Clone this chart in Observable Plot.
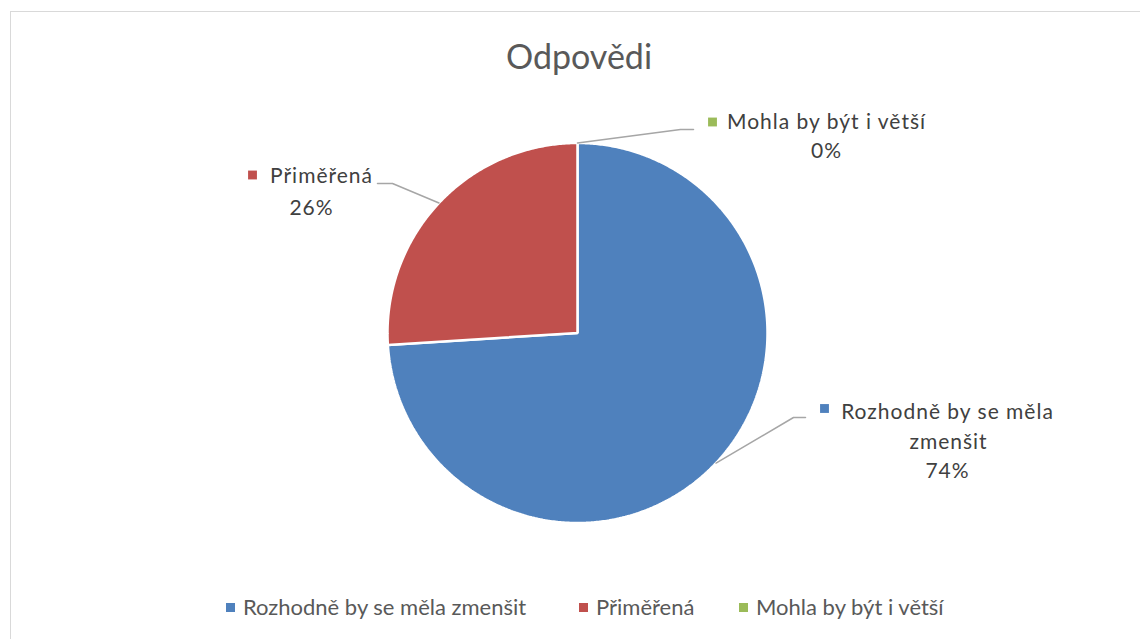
<!DOCTYPE html>
<html>
<head>
<meta charset="utf-8">
<script src="https://cdn.jsdelivr.net/npm/d3@7"></script>
<script src="https://cdn.jsdelivr.net/npm/@observablehq/plot@0.6"></script>
<style>
  html, body { margin: 0; padding: 0; background: #fff; }
  body { width: 1140px; height: 639px; overflow: hidden; position: relative; font-family: Lato, "Open Sans", sans-serif; }
  #frame { position: absolute; left: 10px; top: 11px; width: 1200px; height: 700px; border: 1px solid #d9d9d9; box-sizing: border-box; }
  #title { position: absolute; left: 0; width: 1158px; top: 33px; text-align: center; font-size: 34px; color: #595959; line-height: 46px; }
  #chart { position: absolute; left: 0; top: 0; }
  #legend { position: absolute; left: 0; top: 595px; width: 1140px; height: 24px; font-size: 22px; color: #595959; line-height: 24px; }
  .item { position: absolute; top: 0; display: flex; align-items: center; white-space: nowrap; }
  .sw { width: 9px; height: 9px; margin-right: 8px; }
</style>
</head>
<body>
<div id="frame"></div>
<div id="chart"></div>
<div id="title"></div>
<div id="legend"></div>
<script>
// ---- data ----
const categories = ["Rozhodně by se měla zmenšit", "Přiměřená", "Mohla by být i větší"];
const values = [74, 26, 0];
const colors = ["#4f81bd", "#c0504d", "#9bbb59"];
const labelLines = [["Rozhodně by se měla", "zmenšit"], ["Přiměřená"], ["Mohla by být i větší"]];
const titleText = "Odpovědi";

// ---- layout (pixel positions) ----
const W = 1140, H = 639;
const cx = 577, cy = 332.5, R = 190;
const layout = [
  {elbow: [793, 417], end: [805, 417], marker: [824, 408], lines: [[947, 412], [948, 442]], pct: [947, 471]},
  {elbow: [392, 183], end: [377, 183], marker: [252, 174.5], lines: [[321, 176]], pct: [311, 208]},
  {elbow: [680, 129], end: [693, 129], marker: [712, 121.5], lines: [[826, 122]], pct: [826, 151]}
];
const legendLeft = [226, 579, 739];

const total = d3.sum(values);
const arcs = [];
let acc = 0;
values.forEach((v, i) => {
  const a0 = acc / total * 2 * Math.PI;
  acc += v;
  const a1 = acc / total * 2 * Math.PI;
  arcs.push({i, a0, a1, mid: (a0 + a1) / 2});
});

const pt = (a, r) => [cx + r * Math.sin(a), cy - r * Math.cos(a)];

// slice polygons
const slicePts = [];
arcs.forEach(({i, a0, a1}) => {
  if (a1 - a0 <= 0) return;
  const n = Math.max(2, Math.ceil((a1 - a0) / (Math.PI / 360)));
  slicePts.push({cat: categories[i], x: cx, y: cy});
  for (let k = 0; k <= n; k++) {
    const [x, y] = pt(a0 + (a1 - a0) * k / n, R);
    slicePts.push({cat: categories[i], x, y});
  }
});

// leader lines
const leaderPts = [];
arcs.forEach(({i, mid}) => {
  const [sx, sy] = pt(mid, R);
  const L = layout[i];
  leaderPts.push({k: i, x: sx, y: sy}, {k: i, x: L.elbow[0], y: L.elbow[1]}, {k: i, x: L.end[0], y: L.end[1]});
});

// label texts
const texts = [];
arcs.forEach(({i}) => {
  const L = layout[i];
  labelLines[i].forEach((t, j) => texts.push({t, x: L.lines[j][0], y: L.lines[j][1]}));
  texts.push({t: Math.round(values[i] / total * 100) + "%", x: L.pct[0], y: L.pct[1]});
});
const markers = categories.map((c, i) => ({cat: c, x: layout[i].marker[0], y: layout[i].marker[1]}));

const plot = Plot.plot({
  width: W, height: H,
  margin: 0,
  x: {domain: [0, W], range: [0, W], axis: null},
  y: {domain: [0, H], range: [0, H], axis: null},
  color: {domain: categories, range: colors},
  style: {fontFamily: "Lato, 'Open Sans', sans-serif", background: "transparent"},
  marks: [
    Plot.line(slicePts, {x: "x", y: "y", z: "cat", fill: "cat", stroke: "white", strokeWidth: 2.5, curve: "linear-closed", strokeLinejoin: "miter"}),
    Plot.line(leaderPts, {x: "x", y: "y", z: "k", stroke: "#a6a6a6", strokeWidth: 1.5}),
    Plot.dot(markers, {x: "x", y: "y", fill: "cat", symbol: "square", r: 5, stroke: null}),
    Plot.text(texts, {x: "x", y: "y", text: "t", fontSize: 21, fill: "#404040", textAnchor: "middle", lineAnchor: "middle"})
  ]
});
plot.querySelectorAll("text").forEach(t => t.style.letterSpacing = "1px");
document.getElementById("chart").appendChild(plot);
document.getElementById("title").textContent = titleText;

const leg = document.getElementById("legend");
categories.forEach((c, i) => {
  const it = document.createElement("div");
  it.className = "item";
  it.style.left = legendLeft[i] + "px";
  const sw = document.createElement("span");
  sw.className = "sw";
  sw.style.background = colors[i];
  const tx = document.createElement("span");
  tx.textContent = c;
  it.appendChild(sw); it.appendChild(tx);
  leg.appendChild(it);
});
</script>
</body>
</html>
